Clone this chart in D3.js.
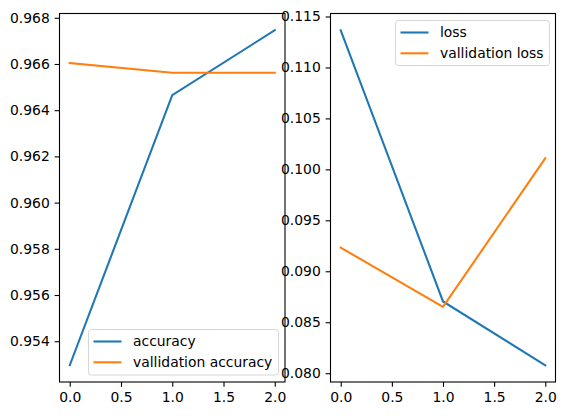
<!DOCTYPE html>
<html><head><meta charset="utf-8">
<script src="https://cdn.jsdelivr.net/npm/d3@7"></script>
<style>body{margin:0;background:#fff}svg{display:block}text{font-family:"DejaVu Sans",sans-serif;fill:#000}</style>
</head><body><svg id="c" width="566" height="416"></svg>
<script>
const epochs = [0, 1, 2];
const accuracy = [0.95296, 0.96465, 0.96746];
const valAccuracy = [0.96604, 0.96562, 0.96562];
const loss = [0.11365, 0.08704, 0.08078];
const valLoss = [0.09232, 0.08650, 0.10110];
const xTicks = [0, 0.5, 1, 1.5, 2];
const accTicks = [0.954, 0.956, 0.958, 0.960, 0.962, 0.964, 0.966, 0.968];
const lossTicks = [0.080, 0.085, 0.090, 0.095, 0.100, 0.105, 0.110, 0.115];

const svg = d3.select("#c");
const FS = 13.9;
const BLUE = "#1f77b4", ORANGE = "#ff7f0e";

function panel(box, s1, s2, yTicks, names, legendPos) {
  const all = s1.concat(s2);
  const lo = d3.min(all), hi = d3.max(all), m = (hi - lo) * 0.05;
  const x = d3.scaleLinear().domain([-0.1, 2.1]).range([box.l, box.r]);
  const y = d3.scaleLinear().domain([lo - m, hi + m]).range([box.b, box.t]);
  const g = svg.append("g");
  const line = d3.line().x((d, i) => x(epochs[i])).y(d => y(d));
  [[s1, BLUE], [s2, ORANGE]].forEach(([s, c]) => {
    g.append("path").datum(s).attr("d", line).attr("fill", "none")
      .attr("stroke", c).attr("stroke-width", 2.08).attr("stroke-linecap", "square");
  });
  const xa = g.append("g").attr("transform", `translate(0,${box.b})`)
    .call(d3.axisBottom(x).tickValues(xTicks).tickFormat(d3.format(".1f")).tickSizeOuter(0).tickSize(4.86).tickPadding(4.86));
  const ya = g.append("g").attr("transform", `translate(${box.l},0)`)
    .call(d3.axisLeft(y).tickValues(yTicks).tickFormat(d3.format(".3f")).tickSizeOuter(0).tickSize(4.86).tickPadding(4.86));
  [xa, ya].forEach(a => {
    a.select(".domain").remove();
    a.selectAll("line").attr("stroke", "#000").attr("stroke-width", 1.1);
    a.selectAll("text").attr("font-size", FS).attr("font-family", "DejaVu Sans");
  });
  xa.selectAll("text").attr("dy", "0.76em");
  g.append("rect").attr("x", box.l).attr("y", box.t).attr("width", box.r - box.l).attr("height", box.b - box.t)
    .attr("fill", "none").attr("stroke", "#000").attr("stroke-width", 1.1);
  // legend
  const lg = g.append("g");
  lg.append("rect").attr("x", legendPos.x).attr("y", legendPos.y).attr("width", legendPos.w).attr("height", legendPos.h)
    .attr("rx", 3).attr("fill", "#fff").attr("fill-opacity", 0.8).attr("stroke", "#d6d6d6").attr("stroke-width", 1);
  names.forEach((n, i) => {
    const yy = legendPos.y + 12 + i * 20.8;
    lg.append("line").attr("x1", legendPos.x + 5).attr("x2", legendPos.x + 33).attr("y1", yy).attr("y2", yy)
      .attr("stroke", i ? ORANGE : BLUE).attr("stroke-width", 2.08);
    lg.append("text").attr("x", legendPos.x + 44.5).attr("y", yy).attr("dy", "0.35em").attr("font-size", FS).text(n);
  });
}

panel({l: 59.5, r: 285, t: 13.5, b: 382}, accuracy, valAccuracy, accTicks,
  ["accuracy", "vallidation accuracy"], {x: 88.5, y: 329.5, w: 190, h: 45.5});
panel({l: 330.5, r: 555.5, t: 13.5, b: 382}, loss, valLoss, lossTicks,
  ["loss", "vallidation loss"], {x: 395.5, y: 20.5, w: 154, h: 45});
</script></body></html>
